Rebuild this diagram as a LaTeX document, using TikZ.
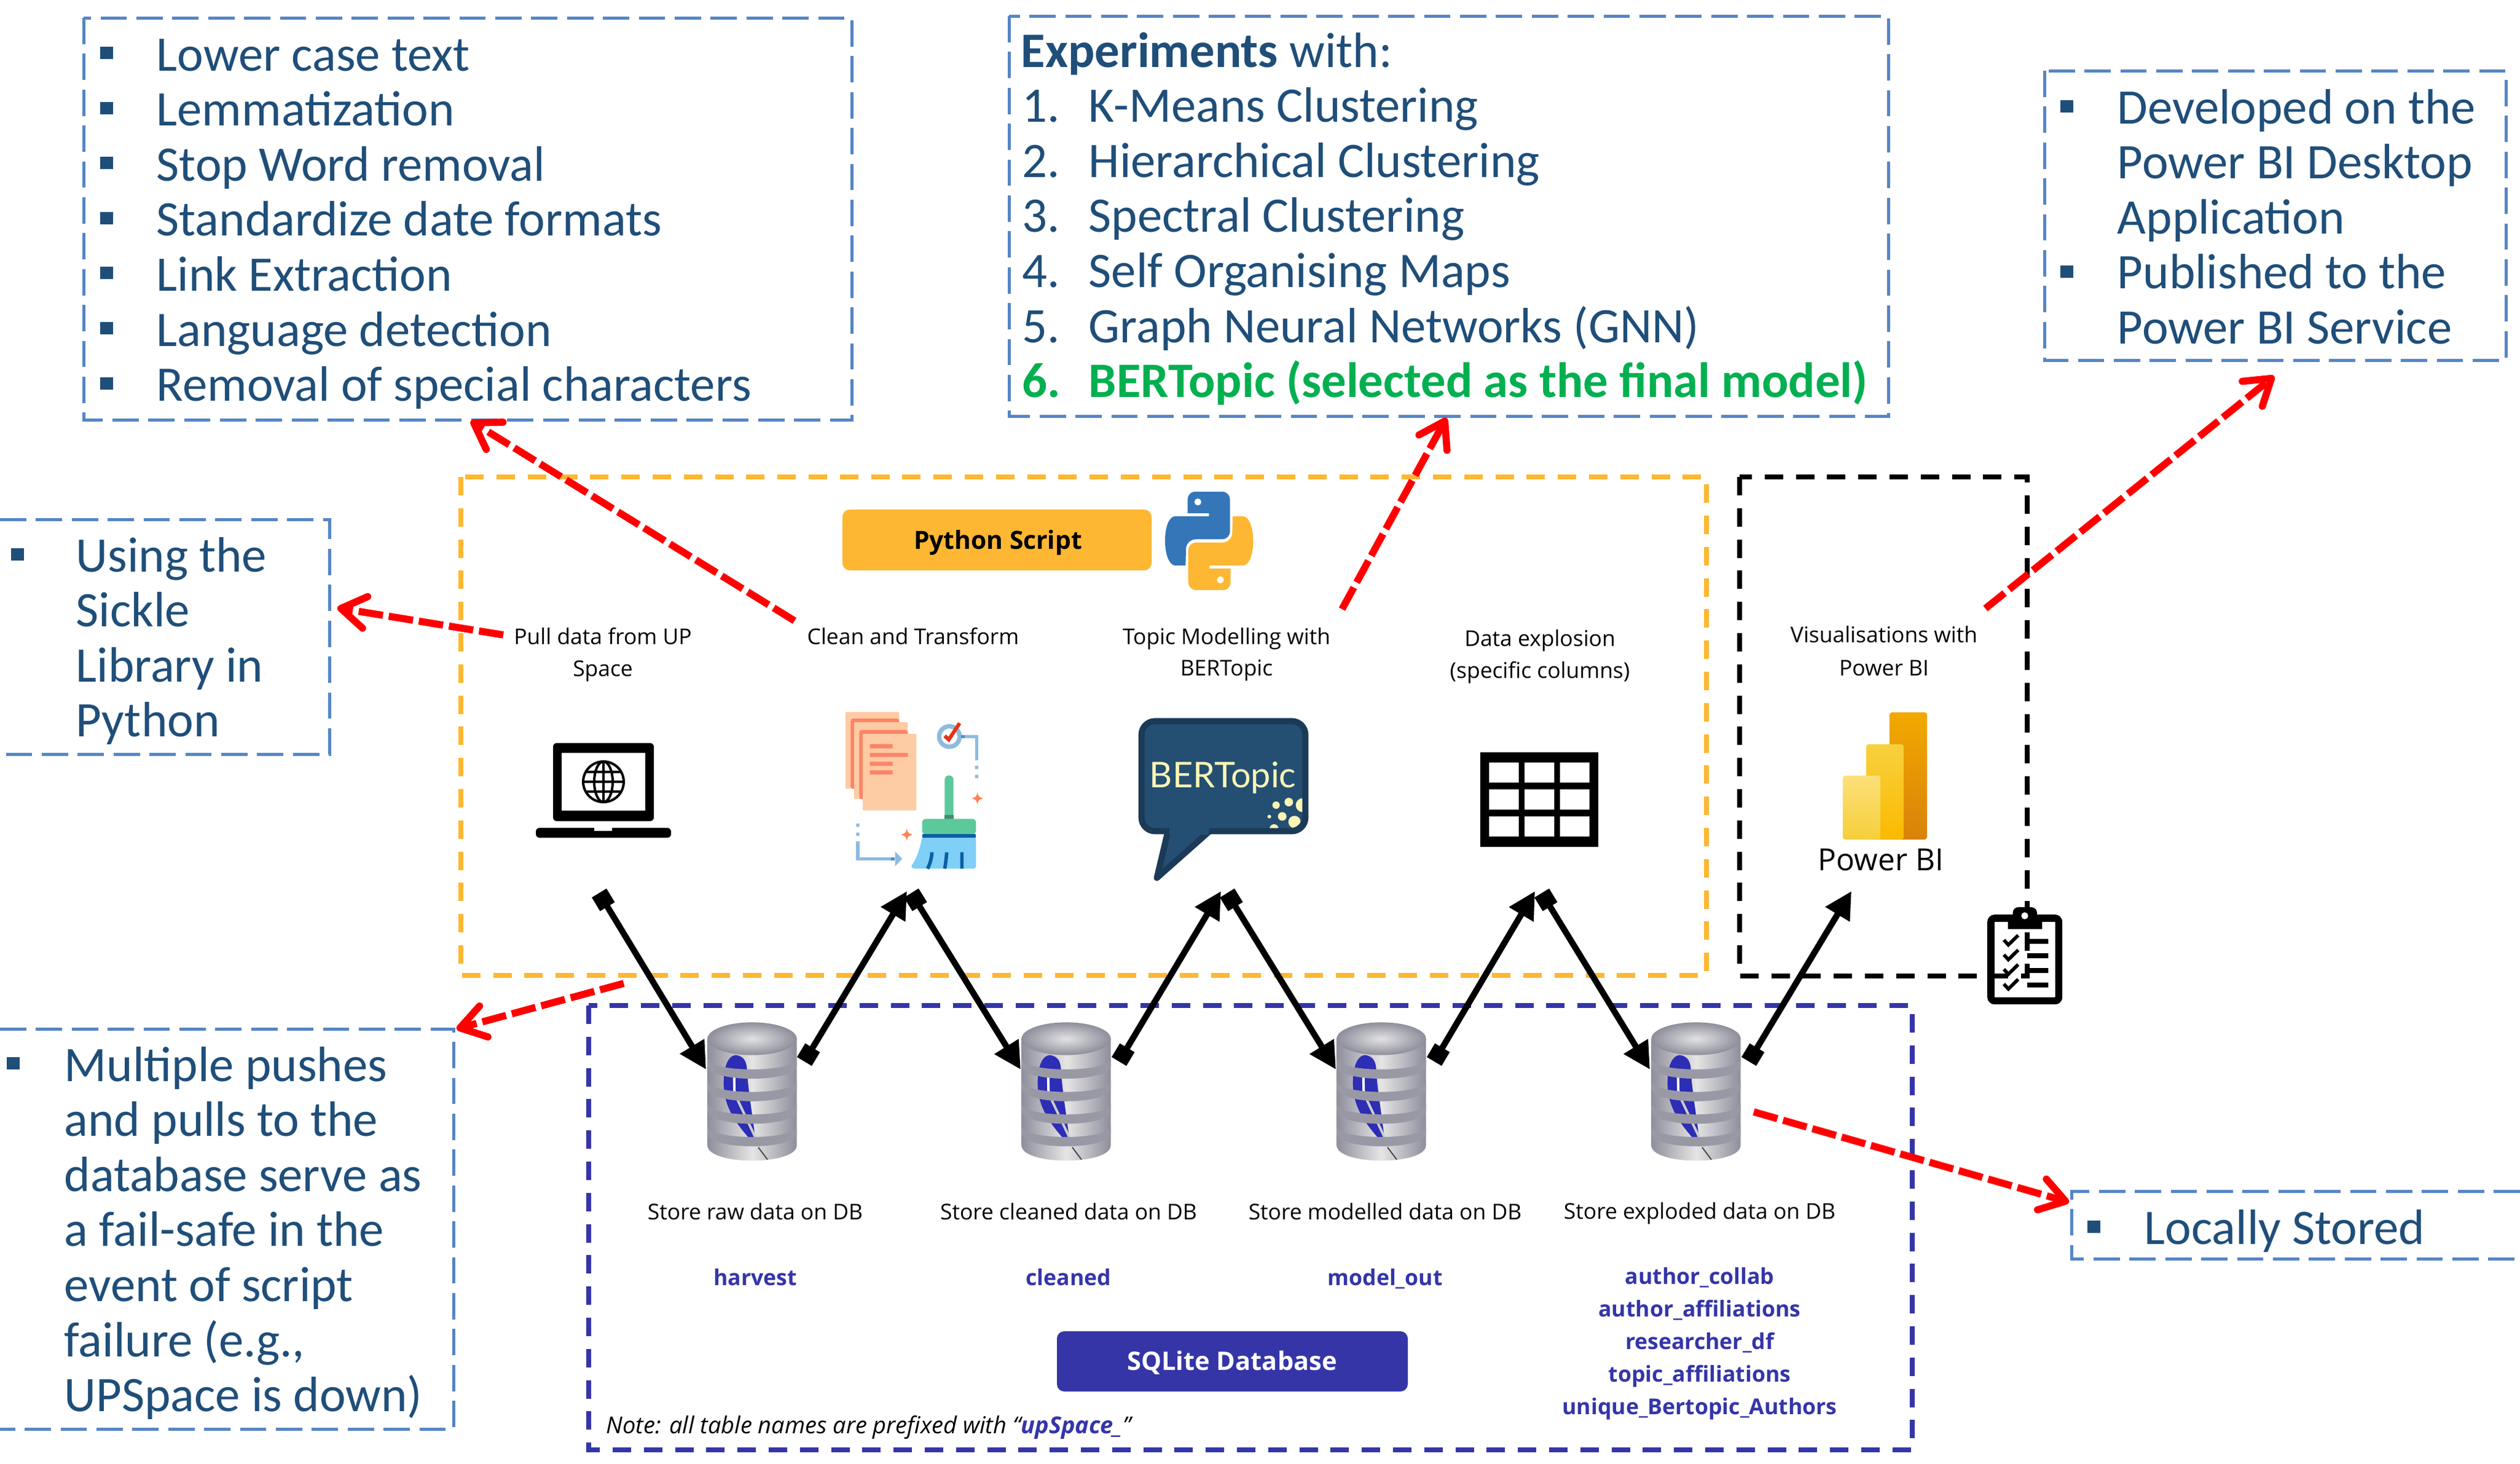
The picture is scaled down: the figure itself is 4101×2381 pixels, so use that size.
\documentclass[tikz,border=0pt]{standalone}
\usepackage{fontspec}
\setmainfont{Carlito}
\newfontfamily\smallfam{Open Sans}
\newfontfamily\latofam{Lato}
\usetikzlibrary{arrows.meta}
\definecolor{txtblue}{HTML}{1F4E79}
\definecolor{boxblue}{HTML}{5585C5}
\definecolor{orangey}{HTML}{FDB732}
\definecolor{indigo}{HTML}{3535A8}
\definecolor{greenfinal}{HTML}{00B050}
\definecolor{redline}{HTML}{FF0000}
\definecolor{peach}{HTML}{FDCBA4}
\definecolor{coral}{HTML}{FC8468}
\definecolor{lineblue}{HTML}{8DBBE0}
\definecolor{darkblue}{HTML}{0B5FA5}
\definecolor{broomgreen}{HTML}{5CC99B}
\definecolor{bristle}{HTML}{7FCFF7}
\definecolor{bertfill}{HTML}{244F73}
\definecolor{bertedge}{HTML}{1A3A57}
\definecolor{bertyellow}{HTML}{FBF5B5}
\definecolor{pyblue}{HTML}{3476B8}
\definecolor{ringgrey}{HTML}{8E8E9C}
\definecolor{biA}{HTML}{F2A900}
\definecolor{biB}{HTML}{D9820A}
\definecolor{biC}{HTML}{F8D13E}
\definecolor{biD}{HTML}{FBB900}
\definecolor{biE}{HTML}{FCE07A}
\definecolor{biF}{HTML}{F5CF3A}
\newcommand{\pyshape}{(190,60) -- (330,60) .. controls (352,62) and (365,80) .. (365,100) -- (365,250) .. controls (365,275) and (350,292) .. (325,292) -- (200,292) .. controls (170,292) and (150,315) .. (150,340) -- (148,420) -- (95,420) .. controls (65,415) and (48,360) .. (48,300) .. controls (48,235) and (65,185) .. (95,180) -- (262,180) -- (262,165) -- (158,165) -- (158,100) .. controls (158,80) and (170,62) .. (190,60) -- cycle}
\newcommand{\sparkle}[3]{\fill[#3] (#1,#2-30) .. controls (#1+5,#2-8) .. (#1+28,#2) .. controls (#1+5,#2+8) .. (#1,#2+30) .. controls (#1-5,#2+8) .. (#1-28,#2) .. controls (#1-5,#2-8) .. (#1,#2-30) -- cycle;}
\newcommand{\dbicon}[1]{%
\begin{scope}[shift={(#1,1650)},scale=1/3]
\shade[left color=ringgrey,right color=ringgrey,middle color=gray!20] (-218,120) -- (-218,640) .. controls (-218,740) and (218,740) .. (218,640) -- (218,120) -- cycle;
\fill[indigo!85!blue] (-80,200) .. controls (-35,205) and (-25,240) .. (-25,280) .. controls (-18,380) and (0,480) .. (15,605) -- (-20,600) .. controls (-80,530) and (-120,470) .. (-135,390) .. controls (-145,330) and (-140,205) .. (-80,200) -- cycle;
\draw[white,line width=1pt] (-88,300) -- (-86,385);
\draw[gray!40,line width=1pt] (-75,410) -- (15,600);
\foreach \yy in {215,325,435,545}{
\fill[ringgrey!90!white] (-218,\yy) .. controls (-218,\yy+73) and (218,\yy+73) .. (218,\yy) -- (218,\yy+35) .. controls (218,\yy+122) and (-218,\yy+122) .. (-218,\yy+35) -- cycle;}
\shade[inner color=gray!22,outer color=ringgrey] (0,120) ellipse [x radius=218,y radius=80];
\draw[black!70,line width=.5pt] (30,650) -- (75,710);
\end{scope}}
\tikzset{
  x=.25pt,y=-.25pt,
  bigtxt/.style={anchor=base west,inner sep=0pt,text=txtblue,font=\fontsize{20.2}{24}\selectfont},
  smalltxt/.style={anchor=base,inner sep=0pt,font=\smallfam\fontsize{8.85}{12}\selectfont},
  tabletxt/.style={smalltxt,text=indigo,font=\smallfam\bfseries\fontsize{8.9}{12}\selectfont},
  bluebox/.style={draw=boxblue,line width=1.25pt,dash pattern=on 10.7pt off 3.9pt},
  groupbox/.style={line width=2pt,dash pattern=on 7.5pt off 5.2pt},
  bulletmark/.style={fill=txtblue},
  blacklink/.style={draw=black,line width=2.5pt,{Square[length=6.5pt,width=7pt]}-{Triangle[length=11pt,width=11pt]}},
  redlink/.style={draw=redline,line width=2.9pt,dash pattern=on 10pt off 2.4pt,-{Straight Barb[round,length=10pt,width=13pt]}},
}
\begin{document}
\begin{tikzpicture}
\useasboundingbox (0,0) rectangle (4101,2381);
\fill[white] (0,0) rectangle (4101,2381);

% text boxes
\draw[bluebox] (136,29) rectangle (1386,683);
\draw[bluebox] (1642,26) rectangle (3073,677);
\draw[bluebox] (3327,115) rectangle (4078,586);
\draw[bluebox] (0,845) -- (536,845) -- (536,1227) -- (0,1227);
\draw[bluebox] (0,1674) -- (738,1674) -- (738,2325) -- (0,2325);
\draw[bluebox] (4101,1938) -- (3371,1938) -- (3371,2048) -- (4101,2048);

\foreach \t [count=\i from 0] in {Lower case text,Lemmatization,Stop Word removal,Standardize date formats,Link Extraction,Language detection,Removal of special characters}{
  \node[bigtxt] (clean\i) at (254,{115+\i*89.6}) {\t};
  \fill[bulletmark] (163,{76+\i*89.6}) rectangle (184,{96+\i*89.6});
}
\node[bigtxt] (exphead) at (1661,109) {\textbf{Experiments} with:};
\foreach \t [count=\i from 1] in {K-Means Clustering,Hierarchical Clustering,Spectral Clustering,Self Organising Maps,Graph Neural Networks (GNN)}{
  \node[bigtxt] (expn\i) at (1663,{109+\i*89.6}) {\i.};
  \node[bigtxt] (exp\i) at (1771,{109+\i*89.6}) {\t};
}
\node[bigtxt,text=greenfinal,font=\fontsize{20.2}{24}\selectfont\bfseries] (expn6) at (1663,646.6) {6.};
\node[bigtxt,text=greenfinal,font=\fontsize{20.2}{24}\selectfont\bfseries] (exp6) at (1771,646.6) {BERTopic (selected as the final model)};

\foreach \t [count=\i from 0] in {Developed on the,Power BI Desktop,Application,Published to the,Power BI Service}{
  \node[bigtxt] (pbi\i) at (3445,{201+\i*89.6}) {\t};
}
\fill[bulletmark] (3353,163) rectangle (3374,183);
\fill[bulletmark] (3353,432) rectangle (3374,452);

\foreach \t [count=\i from 0] in {Using the,Sickle,Library in,Python}{
  \node[bigtxt] (sick\i) at (123,{930+\i*89.6}) {\t};
}
\fill[bulletmark] (18,892) rectangle (39,912);

\foreach \t [count=\i from 0] in {Multiple pushes,and pulls to the,database serve as,a fail-safe in the,event of script,{failure (e.g.,},UPSpace is down)}{
  \node[bigtxt] (fail\i) at (104,{1759+\i*89.6}) {\t};
}
\fill[bulletmark] (11,1720) rectangle (32,1740);

\node[bigtxt] (local) at (3489,2024) {Locally Stored};
\fill[bulletmark] (3397,1986) rectangle (3418,2006);

% group boxes
\draw[groupbox,draw=orangey] (750,776) rectangle (2777,1587);
\draw[groupbox,draw=black] (2831,776) rectangle (3299,1588);
\draw[groupbox,draw=indigo] (958,1636) rectangle (3112,2359);

% python button
\node[fill=orangey,rounded corners=3pt,minimum width=125.75pt,minimum height=24.75pt,inner sep=0pt] (pybtn) at (1622.5,878.5) {};
\node[anchor=base,inner sep=0pt,font=\smallfam\bfseries\fontsize{10.2}{12}\selectfont] (pytxt) at (1624,893) {Python Script};
\begin{scope}[shift={(1880,780)},scale=1/3]
\fill[pyblue] \pyshape;
\fill[white] (208,110) circle [radius=17];
\begin{scope}[shift={(526,600)},xscale=-1,yscale=-1]
\fill[orangey] \pyshape;
\fill[white] (208,110) circle [radius=17];
\end{scope}
\end{scope}

% small labels
\node[smalltxt] (l1a) at (981,1048) {Pull data from UP};
\node[smalltxt] (l1b) at (981,1100) {Space};
\node[smalltxt] (l2a) at (1486,1048) {Clean and Transform};
\node[smalltxt] (l3a) at (1996,1048) {Topic Modelling with};
\node[smalltxt] (l3b) at (1996,1099) {BERTopic};
\node[smalltxt] (l4a) at (2506,1051) {Data explosion};
\node[smalltxt] (l4b) at (2506,1103) {(specific columns)};
\node[smalltxt] (l5a) at (3066,1045) {Visualisations with};
\node[smalltxt] (l5b) at (3066,1099) {Power BI};

% laptop
\fill[black,rounded corners=1.5pt] (900,1209) rectangle (1064,1336);
\fill[white] (914,1225) rectangle (1050,1319);
\draw[black,line width=1pt] (982,1272) circle [radius=33];
\draw[black,line width=1pt] (982,1272) ellipse [x radius=15,y radius=33];
\draw[black,line width=1pt] (982,1239) -- (982,1305) (949,1272) -- (1015,1272) (953,1256) -- (1011,1256) (953,1288) -- (1011,1288);
\fill[black,rounded corners=1.5pt] (872,1347) -- (1092,1347) -- (1092,1363) -- (872,1363) -- cycle;
\fill[white] (967,1347) rectangle (996,1352);

% clean and transform icon
\begin{scope}[shift={(1340,1120)},scale=1/3]
\fill[peach,rounded corners=.5pt] (108,115) rectangle (370,490);
\fill[coral,rounded corners=1pt] (133,147) rectangle (370,490);
\fill[peach,rounded corners=.5pt] (150,165) rectangle (412,540);
\fill[coral,rounded corners=1pt] (175,203) rectangle (412,540);
\fill[peach,rounded corners=.5pt] (192,222) rectangle (454,596);
\fill[coral] (227,272) rectangle (338,293) (227,315) rectangle (412,335) (227,358) rectangle (338,378) (227,400) rectangle (338,420);
\draw[lineblue,line width=1.8pt] (615,235) circle [radius=50];
\draw[lineblue,line width=1.4pt] (672,235) -- (748,235) -- (748,350);
\fill[darkblue!70] (672,227) rectangle (690,243);
\fill[lineblue] (740,378) rectangle (756,394) (740,422) rectangle (756,438);
\draw[red!60!brown,line width=1.5pt] (592,232) -- (612,250) -- (665,170);
\sparkle{752}{537}{coral!80!orange}
\sparkle{407}{714}{coral!80!orange}
\fill[broomgreen,rounded corners=1.7pt] (592,650) -- (592,425) -- (635,425) -- (635,650) -- cycle;
\fill[broomgreen!70!black] (592,618) rectangle (635,638);
\fill[broomgreen,rounded corners=1.5pt] (482,712) -- (482,637) -- (745,637) -- (745,712) -- cycle;
\fill[bristle,rounded corners=1pt] (482,725) .. controls (470,790) and (450,840) .. (425,870) -- (440,880) -- (745,880) -- (745,725) -- cycle;
\fill[darkblue] (482,710) rectangle (745,728);
\draw[darkblue,line width=1.4pt] (530,800) .. controls (528,830) and (520,860) .. (508,880) (602,800) .. controls (600,830) and (596,860) .. (592,880) (676,800) -- (676,880);
\fill[lineblue] (160,660) rectangle (176,676) (160,704) rectangle (176,720);
\draw[lineblue,line width=1.4pt] (168,748) -- (168,832) -- (345,832);
\fill[darkblue!70] (330,824) rectangle (348,840);
\fill[lineblue] (350,796) -- (385,832) -- (350,868) -- cycle;
\end{scope}

% BERTopic icon
\begin{scope}[shift={(1780,1100)},scale=1/3]
\draw[bertedge,fill=bertfill,line width=2.5pt,line join=round,rounded corners=5.5pt] (450,757) -- (233,757) -- (233,220) -- (1033,220) -- (1033,757) -- (565,757);
\fill[bertfill,draw=bertedge,line width=2.5pt,line join=round] (362,757) -- (308,985) -- (565,757);
\fill[bertfill] (368,738) rectangle (560,775);
\begin{scope}
\clip[rounded corners=5pt] (248,235) rectangle (1018,742);
\fill[bertyellow] (890,630) circle [radius=18] (952,615) circle [radius=21] (1020,630) circle [radius=34] (857,686) circle [radius=9] (920,685) circle [radius=21] (980,712) circle [radius=30] (880,745) circle [radius=22];
\end{scope}
\end{scope}
\node[anchor=base,inner sep=0pt,text=bertyellow,font=\latofam\fontsize{14.4}{16}\selectfont] (berttxt) at (1990,1281) {BERTopic};

% table icon
\begin{scope}[shift={(2380,1190)},scale=1/3]
\fill[black] (88,103) rectangle (663,563);
\fill[white] (130,152) rectangle (275,250) (303,152) rectangle (448,250) (476,152) rectangle (620,250);
\fill[white] (130,283) rectangle (275,382) (303,283) rectangle (448,382) (476,283) rectangle (620,382);
\fill[white] (130,415) rectangle (275,513) (303,415) rectangle (448,513) (476,415) rectangle (620,513);
\end{scope}

% Power BI icon
\shade[top color=biA,bottom color=biB,rounded corners=1pt] (3075,1159) rectangle (3136,1366);
\shade[top color=biC,bottom color=biD,rounded corners=1pt] (3037,1211) rectangle (3098,1366);
\shade[top color=biE,bottom color=biF,rounded corners=1pt] (2999,1262) rectangle (3060,1366);
\node[anchor=base,inner sep=0pt,font=\smallfam\fontsize{12.4}{15}\selectfont] (pbilogo) at (3061,1416) {Power BI};

% clipboard
\begin{scope}[shift={(3215,1460)},scale=1/3]
\draw[black,line width=2.9pt,rounded corners=1.5pt] (75,102) rectangle (406,505);
\fill[black] (158,155) -- (325,155) -- (325,85) -- (300,85) -- (300,75) .. controls (300,58) and (285,48) .. (270,48) -- (210,48) .. controls (195,48) and (182,58) .. (182,75) -- (182,85) -- (158,85) -- cycle;
\fill[white] (240,90) circle [radius=17];
\foreach \dy in {0,72,143,215}{
\draw[black,line width=1.4pt] (138,{208+\dy}) -- (160,{232+\dy}) -- (208,{185+\dy});
}
\fill[black] (252,203) rectangle (355,227) (252,273) rectangle (355,297) (252,345) rectangle (355,369) (252,416) rectangle (355,440);
\end{scope}

% database icons
\dbicon{1224}\dbicon{1735}\dbicon{2248}\dbicon{2760}
\coordinate (db1in) at (1149,1740); \coordinate (db1out) at (1309,1727);
\coordinate (db2in) at (1661,1740); \coordinate (db2out) at (1821,1727);
\coordinate (db3in) at (2174,1740); \coordinate (db3out) at (2334,1727);
\coordinate (db4in) at (2685,1740); \coordinate (db4out) at (2846,1727);
\coordinate (s1out) at (975,1453);
\coordinate (s2in) at (1476,1450); \coordinate (s2out) at (1483,1453);
\coordinate (s3in) at (1987,1450); \coordinate (s3out) at (1997,1453);
\coordinate (s4in) at (2498,1450); \coordinate (s4out) at (2509,1453);
\coordinate (s5in) at (3013,1450);
\draw[blacklink] (s1out) -- (db1in);
\draw[blacklink] (db1out) -- (s2in);
\draw[blacklink] (s2out) -- (db2in);
\draw[blacklink] (db2out) -- (s3in);
\draw[blacklink] (s3out) -- (db3in);
\draw[blacklink] (db3out) -- (s4in);
\draw[blacklink] (s4out) -- (db4in);
\draw[blacklink] (db4out) -- (s5in);

% database labels
\node[smalltxt] (d1) at (1229,1984) {Store raw data on DB};
\node[smalltxt] (d2) at (1739,1984) {Store cleaned data on DB};
\node[smalltxt] (d3) at (2254,1984) {Store modelled data on DB};
\node[smalltxt] (d4) at (2766,1983) {Store exploded data on DB};
\node[tabletxt] (t1) at (1229,2091) {harvest};
\node[tabletxt] (t2) at (1739,2091) {cleaned};
\node[tabletxt] (t3) at (2254,2091) {model\_out};
\node[tabletxt] (t4a) at (2766,2089) {author\_collab};
\node[tabletxt] (t4b) at (2766,2142) {author\_affiliations};
\node[tabletxt] (t4c) at (2766,2195) {researcher\_df};
\node[tabletxt] (t4d) at (2766,2248) {topic\_affiliations};
\node[tabletxt] (t4e) at (2766,2301) {unique\_Bertopic\_Authors};
\node[fill=indigo,rounded corners=3pt,minimum width=142.75pt,minimum height=24.5pt,inner sep=0pt] (sqlbtn) at (2005.5,2215) {};
\node[anchor=base,inner sep=0pt,text=white,font=\smallfam\bfseries\fontsize{10.4}{12}\selectfont] (sqltxt) at (2005,2229) {SQLite Database};
\node[anchor=base west,inner sep=0pt,font=\smallfam\itshape\fontsize{9.5}{12}\selectfont] (note) at (986,2332) {Note: all table names are prefixed with “\textcolor{indigo}{\bfseries upSpace\_}”};

% red links
\coordinate (r1a) at (1293,1010); \coordinate (r1b) at (766,685);
\coordinate (r2a) at (819,1033); \coordinate (r2b) at (549,989);
\coordinate (r3a) at (2184,991); \coordinate (r3b) at (2354,680);
\coordinate (r4a) at (3231,990); \coordinate (r4b) at (3701,612);
\coordinate (r5a) at (1015,1600); \coordinate (r5b) at (743,1674);
\coordinate (r6a) at (2854,1809); \coordinate (r6b) at (3367,1956);
\draw[redlink] (r1a) -- (r1b);
\draw[redlink] (r2a) -- (r2b);
\draw[redlink] (r3a) -- (r3b);
\draw[redlink] (r4a) -- (r4b);
\draw[redlink] (r5a) -- (r5b);
\draw[redlink] (r6a) -- (r6b);
\end{tikzpicture}
\end{document}
